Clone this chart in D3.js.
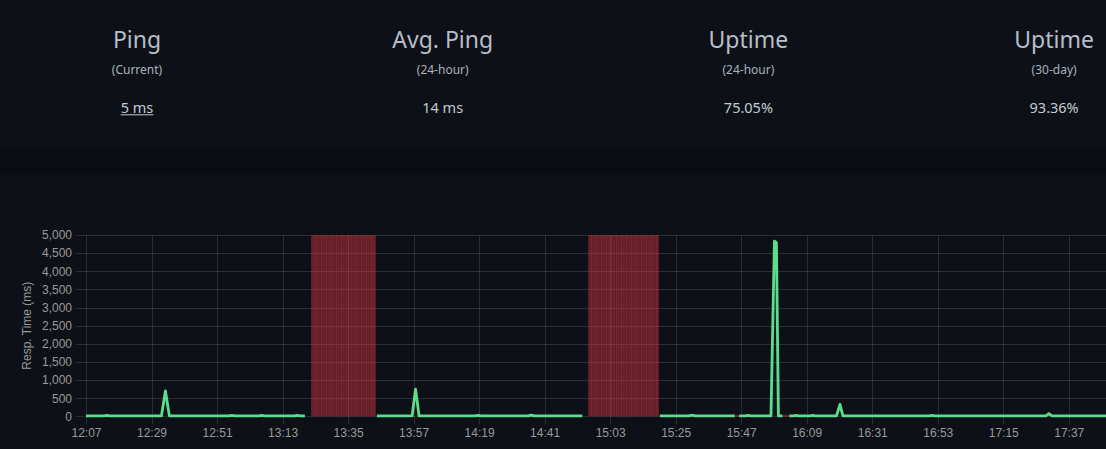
<!DOCTYPE html>
<html>
<head>
<meta charset="utf-8">
<script src="https://cdn.jsdelivr.net/npm/d3@7"></script>
<style>
    html, body { margin: 0; padding: 0; background: #090c10; overflow: hidden; }
    svg { display: block; }
</style>
</head>
<body>
<div id="chart-area"></div>
<script>
// Stats boxes
const statTitles = ["Ping", "Avg. Ping", "Uptime", "Uptime"];
const statPeriods = ["(Current)", "(24-hour)", "(24-hour)", "(30-day)"];
const statValues = ["5 ms", "14 ms", "75.05%", "93.36%"];

// Response time points (null = break in the line)
const pingTimes = [
    "12:07:00", "12:13:00", "12:14:00", "12:15:00", "12:32:20", "12:33:40", "12:35:00",
    "12:55:00", "12:56:00", "12:57:00", "13:05:00", "13:06:00", "13:07:00",
    "13:17:00", "13:18:00", "13:19:00", "13:20:30", "13:21:30",
    "13:44:40", "13:56:30", "13:57:40", "13:58:50", "14:17:40", "14:18:40", "14:19:40",
    "14:35:30", "14:36:30", "14:37:30", "14:53:40", "14:54:30",
    "15:19:40", "15:29:30", "15:30:30", "15:31:30", "15:44:50", "15:45:30",
    "15:46:20", "15:48:20", "15:49:20", "15:50:20", "15:57:00", "15:58:10", "15:58:50",
    "15:59:30", "16:00:50", "16:02:00",
    "16:03:10", "16:04:20", "16:05:20", "16:06:20", "16:10:00", "16:11:00", "16:12:00",
    "16:19:00", "16:20:10", "16:21:10", "16:50:00", "16:51:00", "16:52:00",
    "17:29:20", "17:30:20", "17:31:20", "17:49:30",
];
const pingValues = [
    12, 12, 25, 12, 12, 700, 12,
    12, 28, 12, 12, 25, 12,
    12, 25, 12, 12, null,
    12, 12, 750, 12, 12, 25, 12,
    12, 35, 12, 12, null,
    12, 12, 30, 12, 12, null,
    12, 12, 25, 12, 12, 4830, 4790,
    12, 12, null,
    12, 12, 25, 12, 12, 25, 12,
    12, 330, 12, 12, 25, 12,
    12, 75, 12, 12,
];

// Down periods (full height bars) and short gaps
const downStarts = ["13:22:40", "14:55:40"];
const downEnds = ["13:44:20", "15:19:20"];
const gapStarts = ["15:44:50", "16:00:50"];
const gapEnds = ["15:46:20", "16:03:10"];

const xTickLabels = [
    "12:07", "12:29", "12:51", "13:13", "13:35", "13:57", "14:19", "14:41",
    "15:03", "15:25", "15:47", "16:09", "16:31", "16:53", "17:15", "17:37",
];
const yTicks = [0, 500, 1000, 1500, 2000, 2500, 3000, 3500, 4000, 4500, 5000];

const W = 1106;
const H = 449;

const margin = { top: 235, right: 0, bottom: 32.7, left: 86 };
const width = W - margin.left - margin.right;
const height = H - margin.top - margin.bottom;

const parseTime = (s) => new Date(`2024-01-01T${s.length === 5 ? s + ":00" : s}`);

const svg = d3
    .select("#chart-area")
    .append("svg")
    .attr("width", W)
    .attr("height", H);

// Panels
svg.append("rect").attr("width", W).attr("height", H).attr("fill", "#090c10");
svg.append("rect").attr("width", W).attr("height", 149).attr("fill", "#0d1117");
svg.append("rect").attr("y", 173).attr("width", W).attr("height", H - 173).attr("fill", "#0d1117");

// Stats
const colX = d3.scaleLinear().domain([0, 1]).range([137, 442.7]);
statTitles.forEach((title, i) => {
    const col = svg.append("g").attr("transform", `translate(${colX(i)}, 0)`);
    col.append("text")
        .text(title)
        .attr("y", 47.5)
        .attr("text-anchor", "middle")
        .attr("font-family", "'Noto Sans', sans-serif")
        .attr("font-size", "23px")
        .attr("fill", "#b6bfc9");
    col.append("text")
        .text(statPeriods[i])
        .attr("y", 74)
        .attr("text-anchor", "middle")
        .attr("font-family", "'Noto Sans', sans-serif")
        .attr("font-size", "12px")
        .attr("fill", "#aab2bb");
    const val = col.append("text")
        .text(statValues[i])
        .attr("y", 112.5)
        .attr("text-anchor", "middle")
        .attr("font-family", "'Noto Sans', sans-serif")
        .attr("font-size", "14.5px")
        .attr("fill", "#c4cad1");
    if (i === 0) {
        const w = val.node().getComputedTextLength();
        col.append("line")
            .attr("x1", -w / 2)
            .attr("x2", w / 2)
            .attr("y1", 114.8)
            .attr("y2", 114.8)
            .attr("stroke", "#c4cad1")
            .attr("stroke-width", 1);
    }
});

const g = svg
    .append("g")
    .attr("transform", `translate(${margin.left}, ${margin.top})`);

//Scales
const xScale = d3
    .scaleTime()
    .domain([parseTime("12:07:00"), parseTime("17:49:30")])
    .range([0, width]);
const yScale = d3.scaleLinear().domain([0, 5000]).range([height, 0]);

const xTickDates = xTickLabels.map(parseTime);
const gridColor = "rgba(255,255,255,0.12)";

// Grid
g.append("g")
    .selectAll("line")
    .data(yTicks)
    .join("line")
    .attr("x1", -10)
    .attr("x2", width)
    .attr("y1", (d) => Math.round(yScale(d)) + 0.5)
    .attr("y2", (d) => Math.round(yScale(d)) + 0.5)
    .attr("stroke", gridColor);

g.append("g")
    .selectAll("line")
    .data(xTickDates)
    .join("line")
    .attr("x1", (d) => Math.round(xScale(d)) + 0.5)
    .attr("x2", (d) => Math.round(xScale(d)) + 0.5)
    .attr("y1", 0)
    .attr("y2", height + 8)
    .attr("stroke", gridColor);

// Down bars
const defs = svg.append("defs");
const stripes = defs
    .append("pattern")
    .attr("id", "down-stripes")
    .attr("patternUnits", "userSpaceOnUse")
    .attr("width", 5)
    .attr("height", 10);
stripes.append("rect").attr("x", 0).attr("width", 1).attr("height", 10).attr("fill", "rgba(220,53,69,0.22)");
stripes.append("rect").attr("x", 2.5).attr("width", 0.8).attr("height", 10).attr("fill", "rgba(220,53,69,0.14)");

const downBars = g.append("g");
downStarts.forEach((start, i) => {
    const x0 = xScale(parseTime(start));
    const x1 = xScale(parseTime(downEnds[i]));
    downBars.append("rect")
        .attr("x", x0)
        .attr("y", 0)
        .attr("width", x1 - x0)
        .attr("height", height)
        .attr("fill", "#DC3545")
        .attr("fill-opacity", 0.41);
    downBars.append("rect")
        .attr("x", x0)
        .attr("y", 0)
        .attr("width", x1 - x0)
        .attr("height", height)
        .attr("fill", "url(#down-stripes)");
});

// Short gaps
gapStarts.forEach((start, i) => {
    g.append("line")
        .attr("x1", xScale(parseTime(start)))
        .attr("x2", xScale(parseTime(gapEnds[i])))
        .attr("y1", yScale(12))
        .attr("y2", yScale(12))
        .attr("stroke", "#DC3545")
        .attr("stroke-opacity", 0.45)
        .attr("stroke-width", 2);
});

// Ping line
const pingData = pingTimes.map((t, i) => ({ time: parseTime(t), value: pingValues[i] }));

const area = d3
    .area()
    .defined((d) => d.value !== null)
    .x((d) => xScale(d.time))
    .y0(height)
    .y1((d) => yScale(d.value));

const line = d3
    .line()
    .defined((d) => d.value !== null)
    .x((d) => xScale(d.time))
    .y((d) => yScale(d.value));

g.append("path")
    .datum(pingData)
    .attr("d", area)
    .attr("fill", "#5CDD8B")
    .attr("fill-opacity", 0.03);

g.append("path")
    .datum(pingData)
    .attr("d", line)
    .attr("fill", "none")
    .attr("stroke", "#5CDD8B")
    .attr("stroke-width", 2.8)
    .attr("stroke-linejoin", "round");

//Axes
const axisFont = "'Liberation Sans', Arial, sans-serif";
const yAxisCall = d3.axisLeft(yScale).tickValues(yTicks).tickFormat(d3.format(",")).tickSize(0).tickPadding(14);
const xAxisCall = d3.axisBottom(xScale).tickValues(xTickDates).tickFormat(d3.timeFormat("%H:%M")).tickSize(0).tickPadding(12.5);

const yAxis = g.append("g").attr("class", "y-axis").call(yAxisCall);
const xAxis = g.append("g").attr("class", "x-axis").attr("transform", `translate(0, ${height})`).call(xAxisCall);

[yAxis, xAxis].forEach((ax) => {
    ax.select(".domain").remove();
    ax.selectAll("text")
        .attr("fill", "#999")
        .attr("font-family", axisFont)
        .attr("font-size", "12px");
});

//Labels
g.append("text")
    .attr("class", "y-label")
    .text("Resp. Time (ms)")
    .attr("x", -height / 2)
    .attr("y", -55)
    .attr("text-anchor", "middle")
    .attr("transform", "rotate(-90)")
    .attr("fill", "#999")
    .attr("font-family", axisFont)
    .attr("font-size", "12px");
</script>
</body>
</html>
